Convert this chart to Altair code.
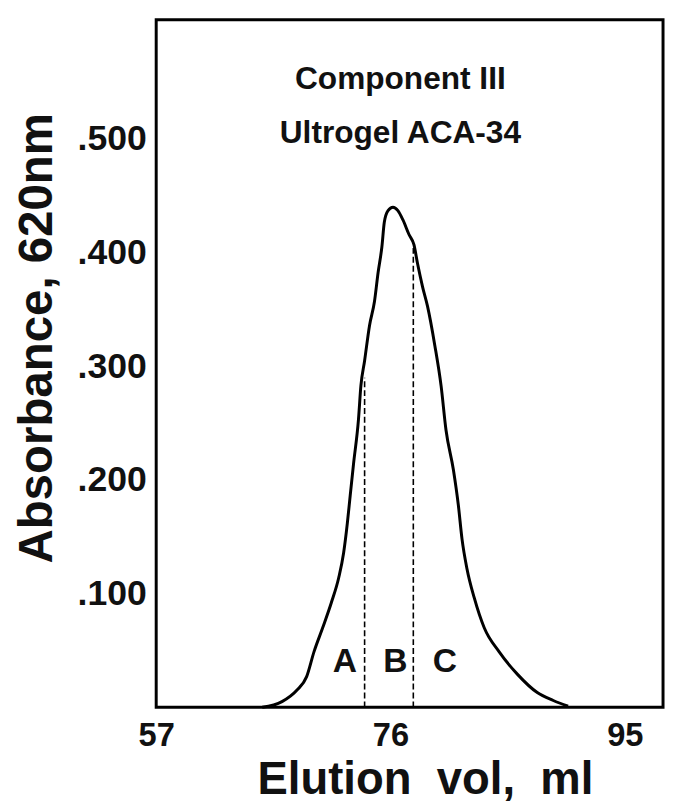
import altair as alt
import pandas as pd

# Elution profile (ml, absorbance at 620 nm)
elution_ml = [65.6, 67.2, 68.4, 69.2, 69.8, 70.5, 71.2, 71.8, 72.2, 72.5, 72.7, 73.0,
              73.4, 73.6, 73.9, 74.3, 74.7, 75.0, 75.3, 75.5, 75.8, 76.2, 76.6, 77.0,
              77.5, 77.9, 78.2, 78.6, 79.0, 79.6, 80.1, 80.5, 81.1, 81.5, 81.8, 82.2,
              82.8, 83.6, 84.8, 86.3, 87.9, 89.2, 90.4]
absorbance = [0.000, 0.005, 0.015, 0.027, 0.049, 0.070, 0.092, 0.114, 0.136, 0.162, 0.183, 0.214,
              0.253, 0.283, 0.305, 0.336, 0.357, 0.383, 0.405, 0.427, 0.437, 0.440, 0.437, 0.429,
              0.416, 0.407, 0.390, 0.370, 0.353, 0.318, 0.283, 0.244, 0.209, 0.178, 0.148, 0.122,
              0.096, 0.070, 0.049, 0.029, 0.013, 0.006, 0.001]

# Fraction cut lines
cut_x = [73.9, 77.85]
cut_top = [0.29, 0.405]

# Fraction labels
frac_labels = ["A", "B", "C"]
frac_x = [72.3, 76.4, 80.4]
frac_y = [0.040, 0.040, 0.040]

# In-plot titles
note_text = ["Component III", "Ultrogel ACA-34"]
note_x = [76.8, 76.8]
note_y = [0.553, 0.505]

x_ticks = [57, 76, 95]
y_ticks = [0.1, 0.2, 0.3, 0.4, 0.5]

FONT = "Liberation Sans"

curve_df = pd.DataFrame({"x": elution_ml, "y": absorbance})
cut_df = pd.DataFrame({"x": cut_x, "y0": [0, 0], "y1": cut_top})
frac_df = pd.DataFrame({"t": frac_labels, "x": frac_x, "y": frac_y})
note_df = pd.DataFrame({"t": note_text, "x": note_x, "y": note_y})

xs = alt.Scale(domain=[57, 98.1], nice=False, zero=False)
ys = alt.Scale(domain=[0, 0.605], nice=False)

x_axis = alt.Axis(
    values=x_ticks, title="Elution\u00a0\u00a0vol,\u00a0\u00a0ml", grid=False, domain=False,
    ticks=False, tickSize=0, labelPadding=13, labelFont=FONT, labelFontSize=33,
    labelFontWeight="bold", labelColor="#111", labelFlush=False,
    titleFont=FONT, titleFontSize=46, titleFontWeight="bold", titleColor="#111",
    titleX=272, titleY=87, titleBaseline="alphabetic", titleAnchor="middle",
)
y_axis = alt.Axis(
    values=y_ticks, title="Absorbance, 620nm", grid=False, domain=False,
    ticks=False, tickSize=0, labelPadding=10, labelFont=FONT, labelFontSize=36,
    labelFontWeight="bold", labelColor="#111",
    labelExpr="substring(format(datum.value, '.3f'), 1)",
    titleFont=FONT, titleFontSize=48, titleFontWeight="bold", titleColor="#111",
    titleX=-120, titleY=322, titleAngle=270, titleBaseline="middle", titleAnchor="middle",
)

curve = alt.Chart(curve_df).mark_line(color="black", strokeWidth=3, interpolate="monotone").encode(
    x=alt.X("x:Q", scale=xs, axis=x_axis),
    y=alt.Y("y:Q", scale=ys, axis=y_axis),
)

cuts = alt.Chart(cut_df).mark_rule(color="black", strokeWidth=1.6, strokeDash=[6, 3]).encode(
    x=alt.X("x:Q", scale=xs),
    y=alt.Y("y0:Q", scale=ys),
    y2="y1:Q",
)

fracs = alt.Chart(frac_df).mark_text(font=FONT, fontSize=34, fontWeight="bold", color="#111",
                                     baseline="middle", align="center").encode(
    x=alt.X("x:Q", scale=xs), y=alt.Y("y:Q", scale=ys), text="t:N")

notes = alt.Chart(note_df).mark_text(font=FONT, fontSize=32, fontWeight="bold", color="#111",
                                     baseline="middle", align="center").encode(
    x=alt.X("x:Q", scale=xs), y=alt.Y("y:Q", scale=ys), text="t:N")

chart = alt.layer(curve, cuts, fracs, notes).properties(
    width=513, height=696,
    background="white",
    autosize=alt.AutoSizeParams(type="none"),
    padding={"left": 150, "top": 7, "right": 3, "bottom": 92},
).configure_view(stroke="black", strokeWidth=3)

chart.save("out.html", embed_options={"renderer": "svg", "actions": False})
